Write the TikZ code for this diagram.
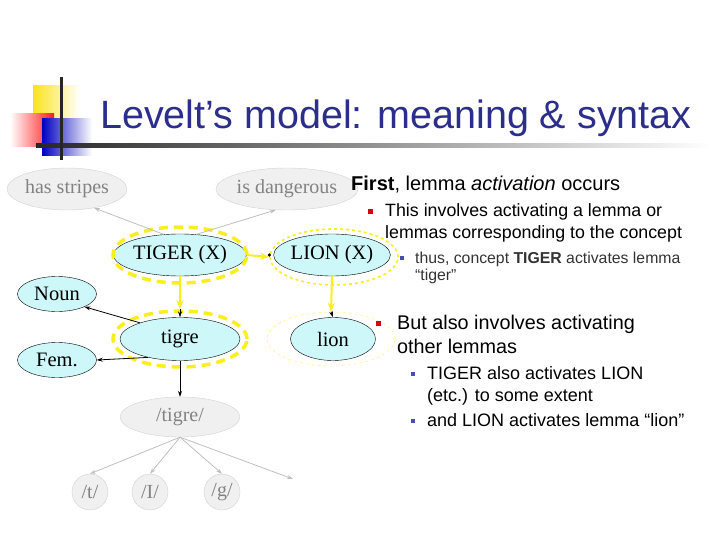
\documentclass[tikz,border=0pt]{standalone}
\usepackage{fontspec}
\setmainfont{Liberation Serif}
\newfontfamily\arialfont{Liberation Sans}
\usetikzlibrary{shapes.geometric,arrows.meta,positioning}
\definecolor{titleBlue}{RGB}{44,46,140}
\definecolor{nodeCyan}{RGB}{206,247,250}
\definecolor{haloYellow}{RGB}{250,238,30}
\definecolor{fadeGray}{RGB}{130,130,130}
\definecolor{bulletRed}{RGB}{220,0,0}
\definecolor{bulletBlue}{RGB}{70,80,170}

\begin{document}
\begin{tikzpicture}[x=1pt,y=-1pt,
  concept/.style={ellipse, draw=black, fill=nodeCyan, inner sep=0pt,
                  font=\fontsize{20.5}{22}\selectfont},
  faded/.style={ellipse, draw=gray!35, fill=gray!12, text=fadeGray,
                inner sep=0pt, font=\fontsize{20}{22}\selectfont},
  halo/.style={ellipse, draw=haloYellow, dash pattern=on 9pt off 6pt,
               line width=3.5pt, inner sep=0pt},
  thinhalo/.style={ellipse, draw=haloYellow, dashed, line width=1.6pt,
                   inner sep=0pt},
  arr/.style={-{Stealth[length=6pt,width=4pt]}, thick, black},
  garr/.style={-{Stealth[length=6pt,width=4pt]}, thick, gray!50},
  yarr/.style={-{Stealth[length=9pt,width=7pt]}, line width=2pt, haloYellow},
  body/.style={anchor=base west, inner sep=0pt, font=\arialfont},
  redsq/.style={fill=bulletRed, minimum size=5pt, inner sep=0pt},
  bluesq/.style={fill=bulletBlue, minimum size=4pt, inner sep=0pt}
]
  \useasboundingbox (0,0) rectangle (720,540);

  % slide corner ornament
  \shade[left color=haloYellow!90!orange, right color=white] (33,86) rectangle (80,118);
  \shade[left color=white, right color=red!90] (10,114) rectangle (54,147);
  \shade[left color=blue!75!black, right color=white] (42,119) rectangle (92,156);
  \shade[left color=black!85, right color=white] (36,144) rectangle (710,148);
  \fill[black!85] (60,77) rectangle (63,160);

  % title
  \node[anchor=base west, inner sep=0pt, text=titleBlue,
        font=\arialfont\fontsize{39.5}{42}\selectfont] (title) at (100,129)
    {Levelt’s model: meaning \& syntax};

  % concept level
  \node[faded, minimum width=120pt, minimum height=42pt] (stripes) at (67,189) {has stripes};
  \node[faded, minimum width=118pt, minimum height=42pt] (danger) at (287,189) {is dangerous};
  \node[concept, minimum width=120pt, minimum height=42pt] (tiger) at (180,255) {TIGER (X)};
  \node[halo, minimum width=134pt, minimum height=56pt] (tigerHalo) at (180,255) {};
  \node[concept, minimum width=98pt, minimum height=42pt] (lionC) at (332,255) {LION (X)};
  \node[thinhalo, minimum width=128pt, minimum height=56pt] (lionHalo) at (334,257) {};

  % lemma level
  \node[concept, minimum width=79pt, minimum height=35pt] (noun) at (57,294) {Noun};
  \node[concept, minimum width=79pt, minimum height=35pt] (fem) at (57,360) {Fem.};
  \node[concept, minimum width=120pt, minimum height=43pt] (tigre) at (180,339) {tigre};
  \node[halo, minimum width=134pt, minimum height=56pt] (tigreHalo) at (180,339) {};
  \node[concept, minimum width=85pt, minimum height=43pt] (lion) at (333,339) {lion};
  \node[ellipse, draw=haloYellow!70, dashed, thin, minimum width=128pt,
        minimum height=54pt] (lionHalo2) at (331,339) {};

  % form level
  \node[faded, minimum width=120pt, minimum height=40pt] (form) at (180,417) {/tigre/};
  \node[faded, circle, minimum size=36pt] (t) at (90,492) {/t/};
  \node[faded, circle, minimum size=36pt] (I) at (150,492) {/I/};
  \node[faded, circle, minimum size=36pt] (g) at (222,492) {/g/};
  \coordinate (more) at (293,479);

  % connectors
  \draw[garr] (tiger.128) -- (stripes.-35);
  \draw[garr] (tiger.52) -- (danger.-118);
  \draw[yarr] (tiger.east) -- (lionHalo.west);
  \fill[black] (lionC.west) ++(-4,0) circle (1.8pt);
  \draw[yarr] (tiger.south) -- (tigreHalo.north);
  \draw[arr] (tigreHalo.north) -- (tigre.north);
  \draw[yarr] (lionC.south) -- (lionHalo2.north);
  \draw[arr] (lionHalo2.north) -- (lion.north);
  \draw[arr] (tigre.158) -- (noun.-25);
  \draw[arr] (tigre.-150) -- (fem.east);
  \draw[arr] (tigre.south) -- (form.north);
  \foreach \p in {t,I,g}
    \draw[garr] (form.south) -- (\p.north);
  \draw[garr] (form.south) -- (more);

  % bullet text
  \node[body, font=\arialfont\fontsize{20}{22}\selectfont] (first) at (351,191)
    {\textbf{First}, lemma \textit{activation} occurs};
  \node[redsq] (b1) at (370,212) {};
  \node[body, font=\arialfont\fontsize{17.8}{20}\selectfont] (involves) at (385,217)
    {This involves activating a lemma or};
  \node[body, font=\arialfont\fontsize{17.8}{20}\selectfont] (involvesB) at (385,239)
    {lemmas corresponding to the concept};
  \node[bluesq] (b2) at (402,258) {};
  \node[body, font=\arialfont\fontsize{15.8}{17}\selectfont, text=black!80] (thus) at (415,263)
    {thus, concept \textbf{TIGER} activates lemma};
  \node[body, font=\arialfont\fontsize{15.8}{17}\selectfont, text=black!80] (thusB) at (415,280)
    {“tiger”};
  \node[redsq] (b3) at (378,323) {};
  \node[body, font=\arialfont\fontsize{19.8}{22}\selectfont] (also) at (397,329)
    {But also involves activating};
  \node[body, font=\arialfont\fontsize{19.8}{22}\selectfont] (alsoB) at (397,353)
    {other lemmas};
  \node[bluesq] (b4) at (413,374) {};
  \node[body, font=\arialfont\fontsize{18}{20}\selectfont] (tigerLion) at (427,379)
    {TIGER also activates LION};
  \node[body, font=\arialfont\fontsize{18}{20}\selectfont] (tigerLionB) at (427,401)
    {(etc.) to some extent};
  \node[bluesq] (b5) at (413,421) {};
  \node[body, font=\arialfont\fontsize{18}{20}\selectfont] (lionLemma) at (427,426)
    {and LION activates lemma “lion”};
\end{tikzpicture}
\end{document}
